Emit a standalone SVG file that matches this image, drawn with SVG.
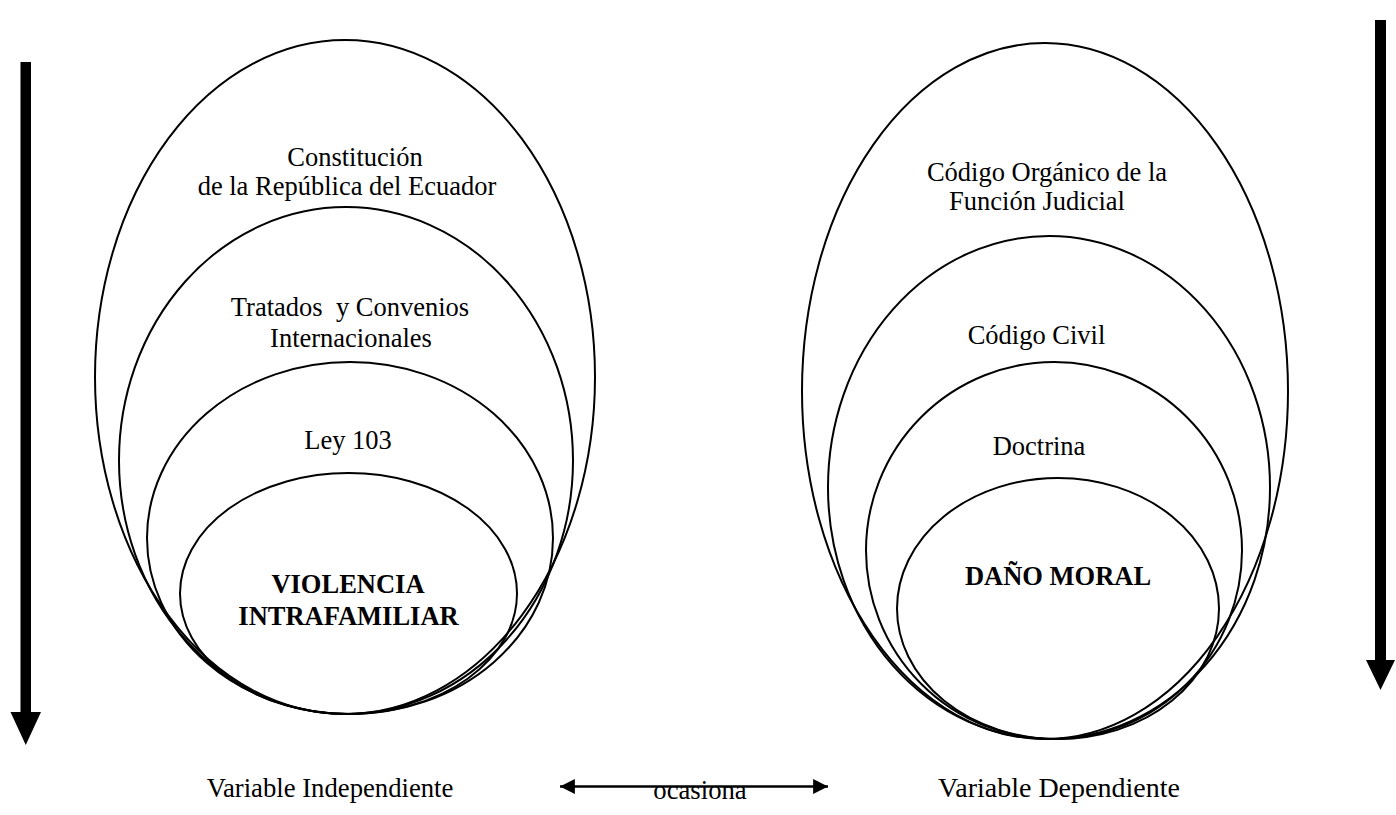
<svg xmlns="http://www.w3.org/2000/svg" width="1396" height="815" viewBox="0 0 1396 815">
<style>
.e{fill:none;stroke:#000;stroke-width:2}
.t{font-family:"Liberation Serif","Times New Roman",serif;font-size:26.5px;fill:#000;text-anchor:middle}
.b{font-weight:bold}
</style>
<defs>
<marker id="ah" viewBox="0 0 10 10" refX="10" refY="5" markerWidth="5.5" markerHeight="5.5" orient="auto-start-reverse" markerUnits="strokeWidth">
<path d="M0,0 L10,5 L0,10 z" fill="#000"/>
</marker>
</defs>
<rect width="1396" height="815" fill="#fff"/>
<g id="left-group">
<g id="constitucion"><ellipse class="e" cx="345" cy="377" rx="250" ry="337"/>
<text class="t" x="355" y="166">Constitución</text>
<text class="t" x="347" y="195">de la República del Ecuador</text></g>
<g id="tratados"><ellipse class="e" cx="346" cy="460.5" rx="227" ry="253.5"/>
<text class="t" x="350" y="316" xml:space="preserve">Tratados  y Convenios</text>
<text class="t" x="351" y="347">Internacionales</text></g>
<g id="ley103"><ellipse class="e" cx="350" cy="538" rx="203" ry="176"/>
<text class="t" x="348" y="449">Ley 103</text></g>
<g id="violencia"><ellipse class="e" cx="348.5" cy="593.5" rx="168.5" ry="120.5"/>
<text class="t b" x="348" y="593">VIOLENCIA</text>
<text class="t b" x="348.5" y="625">INTRAFAMILIAR</text></g>
</g>
<g id="right-group">
<g id="codigo-organico"><ellipse class="e" cx="1045" cy="391" rx="243" ry="348"/>
<text class="t" x="1047" y="181">Código Orgánico de la</text>
<text class="t" x="1037" y="210">Función Judicial</text></g>
<g id="codigo-civil"><ellipse class="e" cx="1049" cy="487.5" rx="221" ry="251.5"/>
<text class="t" x="1036.5" y="344">Código Civil</text></g>
<g id="doctrina"><ellipse class="e" cx="1054" cy="550.5" rx="188" ry="188.5"/>
<text class="t" x="1039" y="455">Doctrina</text></g>
<g id="dano-moral"><ellipse class="e" cx="1058" cy="608.5" rx="161" ry="130.5"/>
<text class="t b" x="1058" y="585">DAÑO MORAL</text></g>
</g>
<g id="labels">
<text class="t" x="330" y="797" style="font-size:26.7px">Variable Independiente</text>
<text class="t" x="700" y="799" style="font-size:26.7px">ocasiona</text>
<text class="t" x="1059" y="797" style="font-size:28px">Variable Dependiente</text>
</g>
<g id="connectors">
<path d="M20.5,62 H31 V712 H41 L25.75,745 L10.5,712 H20.5 Z" fill="#000"/>
<path d="M1375,20 H1386 V660 H1395 L1380.5,690 L1366,660 H1375 Z" fill="#000"/>
<line x1="560" y1="786.5" x2="828" y2="786.5" stroke="#000" stroke-width="2.7" marker-start="url(#ah)" marker-end="url(#ah)"/>
</g>
</svg>
